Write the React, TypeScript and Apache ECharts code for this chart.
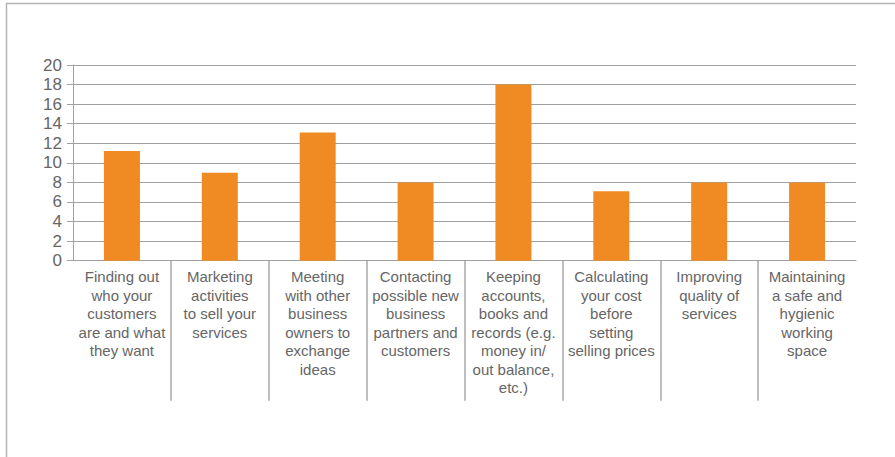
import React, { useEffect, useRef } from "react";
import * as echarts from "echarts";

const categories: string[] = [
  "Finding out\nwho your\ncustomers\nare and what\nthey want",
  "Marketing\nactivities\nto sell your\nservices",
  "Meeting\nwith other\nbusiness\nowners to\nexchange\nideas",
  "Contacting\npossible new\nbusiness\npartners and\ncustomers",
  "Keeping\naccounts,\nbooks and\nrecords (e.g.\nmoney in/\nout balance,\netc.)",
  "Calculating\nyour cost\nbefore\nsetting\nselling prices",
  "Improving\nquality of\nservices",
  "Maintaining\na safe and\nhygienic\nworking\nspace",
];

const values: number[] = [11.2, 9, 13.1, 8, 18, 7.1, 8, 8];

const yMin = 0;
const yMax = 20;
const yInterval = 2;

const FONT = "'Liberation Sans', Arial, sans-serif";
const TEXT = "#666666";
const GRID = "#a0a0a0";

export default function App() {
  const ref = useRef<HTMLDivElement>(null);

  useEffect(() => {
    if (!ref.current) return;
    const chart = echarts.init(ref.current, undefined, { renderer: "svg" });
    chart.setOption({
      animation: false,
      backgroundColor: "#ffffff",
      textStyle: { fontFamily: FONT },
      graphic: [
        {
          type: "rect",
          silent: true,
          shape: { x: 6.5, y: 3.5, width: 1000, height: 1000 },
          style: { fill: "none", stroke: "#b4b4b4", lineWidth: 1.5 },
        },
      ],
      grid: [
        { left: 73, right: 39, top: 65, bottom: 196.3, containLabel: false },
        { left: 73, right: 39, top: 260.7, height: 140, containLabel: false },
      ],
      xAxis: [
        {
          type: "category",
          gridIndex: 0,
          data: categories,
          boundaryGap: true,
          axisLine: { show: true, lineStyle: { color: GRID, width: 1 } },
          axisTick: { show: false },
          axisLabel: {
            interval: 0,
            margin: 7,
            color: TEXT,
            fontSize: 15,
            lineHeight: 18.5,
            fontFamily: FONT,
            align: "center",
          },
          splitLine: { show: false },
        },
        {
          type: "category",
          gridIndex: 1,
          data: categories,
          boundaryGap: true,
          axisLine: { show: false },
          axisTick: { show: false },
          axisLabel: { show: false },
          splitLine: {
            show: true,
            interval: 0,
            showMinLine: false,
            showMaxLine: false,
            lineStyle: { color: "#a8a8a8", width: 1.5 },
          },
        },
      ],
      yAxis: [
        {
          type: "value",
          gridIndex: 0,
          min: yMin,
          max: yMax,
          interval: yInterval,
          axisLine: { show: true, lineStyle: { color: GRID, width: 1 } },
          axisTick: { show: true, length: 6, lineStyle: { color: GRID, width: 1 } },
          axisLabel: { margin: 11, color: TEXT, fontSize: 17, fontFamily: FONT },
          splitLine: { show: true, lineStyle: { color: GRID, width: 1 } },
        },
        {
          type: "value",
          gridIndex: 1,
          show: false,
          min: 0,
          max: 1,
        },
      ],
      series: [
        {
          type: "bar",
          xAxisIndex: 0,
          yAxisIndex: 0,
          data: values,
          barWidth: 36,
          itemStyle: { color: "#F08B23" },
        },
      ],
    });
    return () => chart.dispose();
  }, []);

  return (
    <div
      ref={ref}
      style={{ position: "absolute", left: 0, top: 0, width: 895, height: 457 }}
    />
  );
}
